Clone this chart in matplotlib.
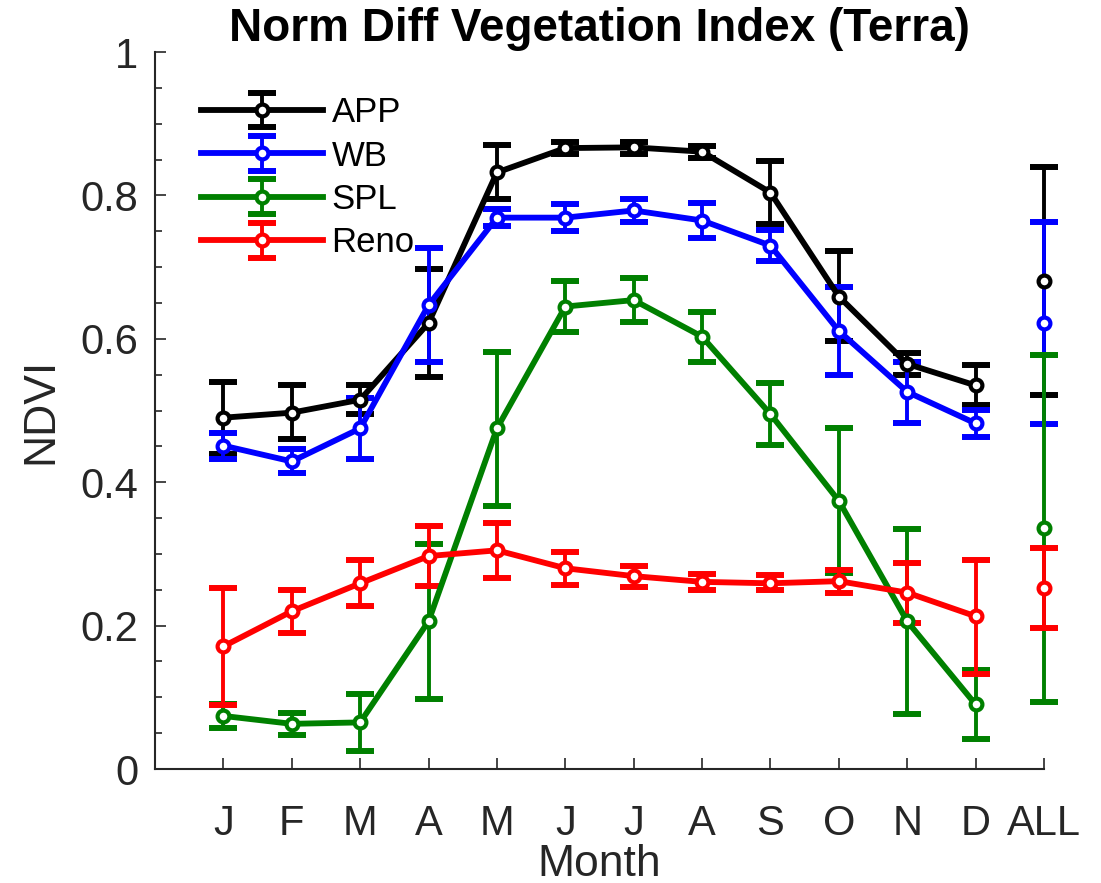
import matplotlib.pyplot as plt
import numpy as np

plt.rcParams['font.family'] = ['Liberation Sans', 'DejaVu Sans']

months = ['J', 'F', 'M', 'A', 'M', 'J', 'J', 'A', 'S', 'O', 'N', 'D']
all_label = 'ALL'

# monthly means and error bar ends (low, high), last value = ALL
app_mean = [0.490, 0.497, 0.515, 0.622, 0.832, 0.866, 0.867, 0.861, 0.804, 0.659, 0.565, 0.535, 0.681]
app_lo = [0.440, 0.460, 0.495, 0.547, 0.795, 0.858, 0.858, 0.852, 0.760, 0.597, 0.550, 0.507, 0.522]
app_hi = [0.540, 0.535, 0.535, 0.698, 0.870, 0.875, 0.875, 0.869, 0.848, 0.722, 0.580, 0.564, 0.840]

wb_mean = [0.451, 0.429, 0.475, 0.647, 0.769, 0.769, 0.779, 0.765, 0.730, 0.611, 0.526, 0.482, 0.622]
wb_lo = [0.433, 0.413, 0.432, 0.567, 0.757, 0.750, 0.763, 0.740, 0.708, 0.550, 0.483, 0.463, 0.481]
wb_hi = [0.469, 0.447, 0.518, 0.727, 0.781, 0.788, 0.795, 0.790, 0.752, 0.672, 0.568, 0.501, 0.763]

spl_mean = [0.074, 0.063, 0.065, 0.206, 0.475, 0.645, 0.654, 0.603, 0.495, 0.374, 0.206, 0.090, 0.336]
spl_lo = [0.057, 0.047, 0.025, 0.098, 0.367, 0.610, 0.623, 0.568, 0.452, 0.273, 0.077, 0.042, 0.094]
spl_hi = [0.091, 0.078, 0.105, 0.314, 0.582, 0.680, 0.685, 0.638, 0.538, 0.475, 0.335, 0.138, 0.578]

reno_mean = [0.171, 0.220, 0.259, 0.297, 0.305, 0.280, 0.269, 0.261, 0.259, 0.262, 0.246, 0.213, 0.253]
reno_lo = [0.089, 0.190, 0.227, 0.255, 0.267, 0.257, 0.254, 0.250, 0.249, 0.246, 0.204, 0.133, 0.197]
reno_hi = [0.253, 0.250, 0.291, 0.339, 0.343, 0.303, 0.283, 0.272, 0.270, 0.277, 0.287, 0.292, 0.308]

series = [
    ('APP', 'black', app_mean, app_lo, app_hi),
    ('WB', (0, 0, 1), wb_mean, wb_lo, wb_hi),
    ('SPL', (0, 0.5, 0), spl_mean, spl_lo, spl_hi),
    ('Reno', (1, 0, 0), reno_mean, reno_lo, reno_hi),
]

fig = plt.figure(figsize=(11.01, 8.83), dpi=100)
ax = fig.add_axes([0.1408, 0.1291, 0.8074, 0.812])

style = dict(lw=4.2, elinewidth=2.8, capsize=10, marker='o', ms=8.5,
             mfc='white', mew=3)

def thick_caps(c, clip=True):
    # caps use the marker edge width, make them bold like the original
    for cap in c.lines[1]:
        cap.set_markeredgewidth(4.3)
        cap.set_clip_on(clip)
    for ln in c.lines[2]:
        ln.set_clip_on(clip)
    c.lines[0].set_clip_on(clip)

x = np.arange(1, 13)
for name, col, m, lo, hi in series:
    m = np.array(m); lo = np.array(lo); hi = np.array(hi)
    err = np.vstack([m - lo, hi - m])
    c = ax.errorbar(x, m[:12], yerr=err[:, :12], color=col, label=name, **style)
    thick_caps(c)
    # ALL column, no connecting line
    c = ax.errorbar([13], m[12:], yerr=err[:, 12:], color=col, ls='none', **style)
    thick_caps(c, clip=False)

ax.set_xlim(0, 13)
ax.set_ylim(0, 1)
ax.set_xticks(np.arange(1, 14))
ax.set_xticklabels(months + [all_label])
ax.set_yticks([0, 0.2, 0.4, 0.6, 0.8, 1])
ax.set_yticklabels(['0', '0.2', '0.4', '0.6', '0.8', '1'])
ax.set_yticks(np.arange(0, 1.001, 0.05), minor=True)
ax.tick_params(axis='both', which='major', direction='in', length=8, width=1.2,
               labelsize=30, color='#262626', labelcolor='#262626')
ax.tick_params(axis='x', pad=25)
ax.tick_params(axis='y', pad=12)
ax.tick_params(axis='y', which='minor', direction='in', length=5, width=1.2, color='#262626')
for s in ['top', 'right']:
    ax.spines[s].set_visible(False)
for s in ['left', 'bottom']:
    ax.spines[s].set_linewidth(1.5)
    ax.spines[s].set_color('#262626')

ax.set_xlabel('Month', fontsize=32, color='#262626', labelpad=0)
ax.set_ylabel('NDVI', fontsize=32, color='#262626', labelpad=14)
ax.set_title('Norm Diff Vegetation Index (Terra)', fontsize=33, fontweight='bold', pad=8)

ax.legend(loc='upper left', bbox_to_anchor=(0.017, 0.982), frameon=False, fontsize=25,
          handlelength=3.5, handletextpad=0.25, labelspacing=0.3)

fig.savefig('out.png', dpi=100)
